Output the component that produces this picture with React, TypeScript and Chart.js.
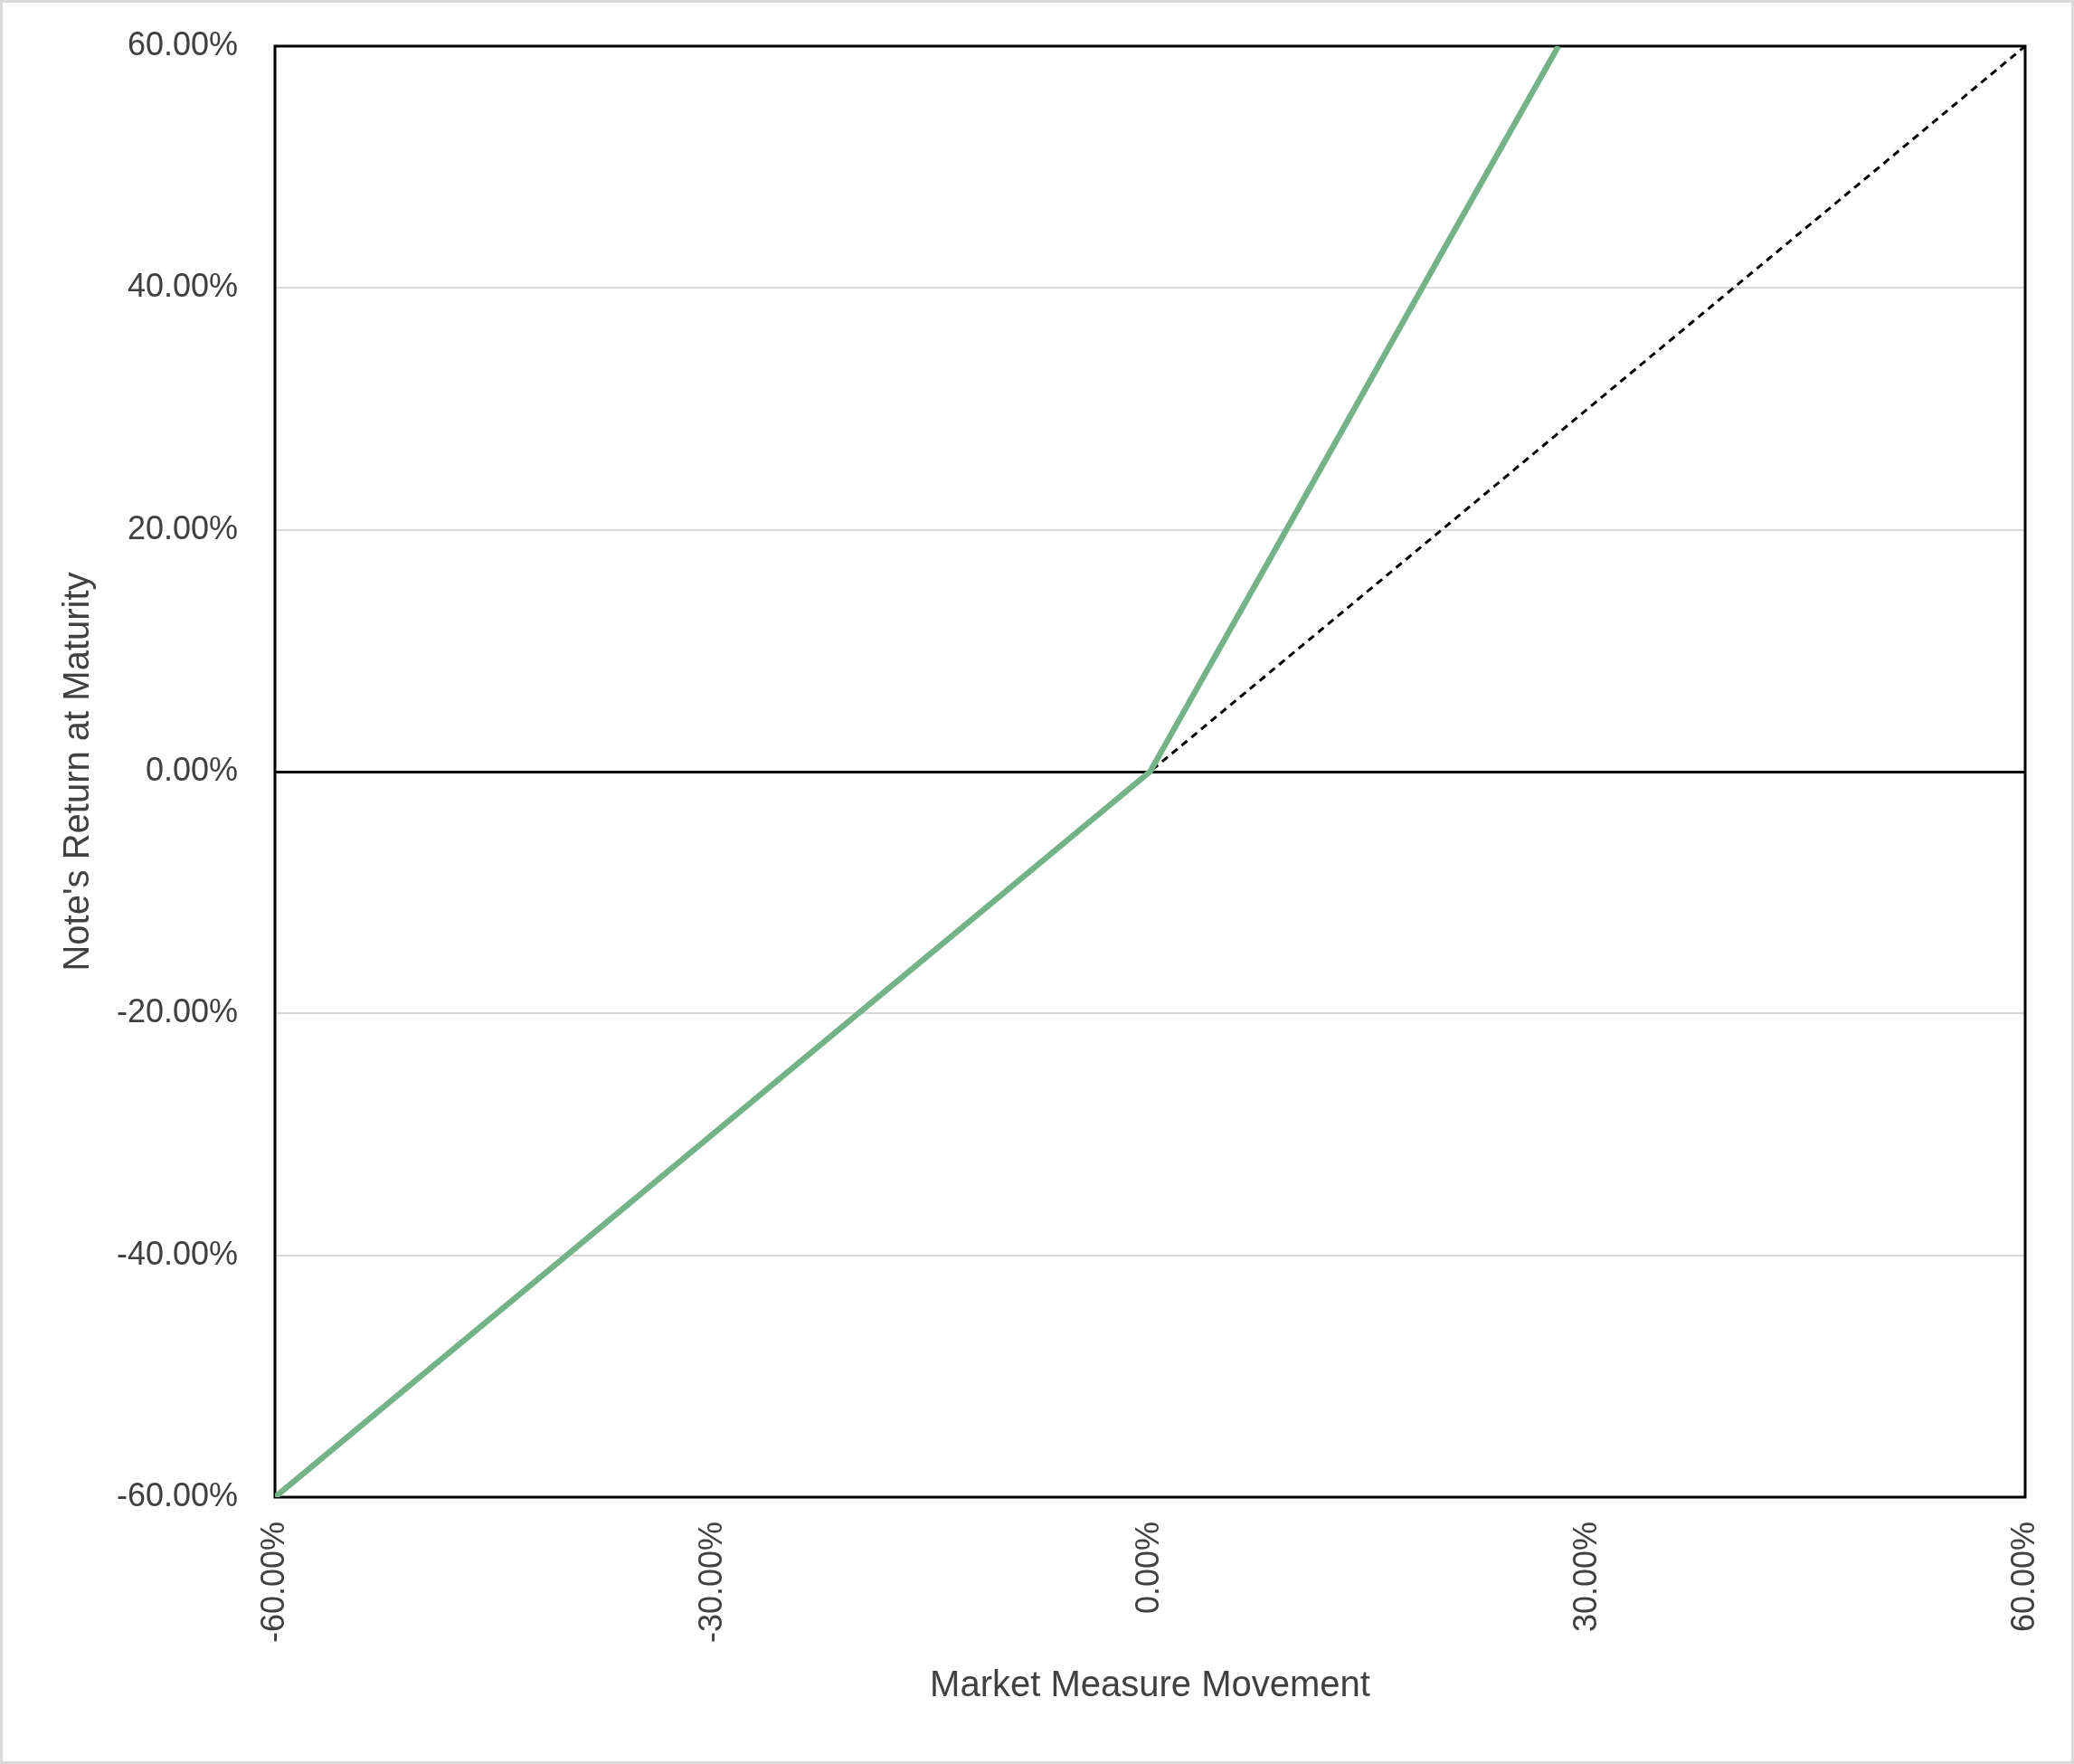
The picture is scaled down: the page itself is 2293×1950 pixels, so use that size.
import React, { useEffect, useRef } from "react";
import { Chart, registerables } from "chart.js";

Chart.register(...registerables);

const W = 2293;
const H = 1950;

// Market measure movement (%) and note return (%)
const noteX = [-60, -50, -40, -30, -20, -10, 0, 10, 20, 28];
const noteY = [-60, -50, -40, -30, -20, -10, 0, 21.4, 42.9, 60];

const refX = [-60, 0, 60];
const refY = [-60, 0, 60];

const yTicks = [-60, -40, -20, 0, 20, 40, 60];
const xTicks = [-60, -30, 0, 30, 60];

const fmt = (v: number) => v.toFixed(2) + "%";

const framePlugin = {
  id: "frame",
  beforeDraw(chart: any) {
    const ctx = chart.ctx;
    ctx.save();
    ctx.fillStyle = "#ffffff";
    ctx.fillRect(0, 0, chart.width, chart.height);
    ctx.strokeStyle = "#d9d9d9";
    ctx.lineWidth = 3;
    ctx.strokeRect(1.5, 1.5, chart.width - 3, chart.height - 3);
    ctx.restore();
  },
  beforeDatasetsDraw(chart: any) {
    const { ctx, chartArea } = chart;
    ctx.save();
    ctx.strokeStyle = "#000000";
    ctx.lineWidth = 3;
    ctx.strokeRect(
      chartArea.left,
      chartArea.top,
      chartArea.right - chartArea.left,
      chartArea.bottom - chartArea.top
    );
    ctx.restore();
  },
};

const zeroPad = (s: any) => {
  s.paddingTop = 0;
  s.paddingBottom = 0;
  s.paddingLeft = 0;
  s.paddingRight = 0;
};

export default function App() {
  const ref = useRef<HTMLCanvasElement | null>(null);

  useEffect(() => {
    if (!ref.current) return;
    Chart.defaults.font.family = "'Liberation Sans', Arial, sans-serif";
    const chart = new Chart(ref.current, {
      type: "line",
      data: {
        datasets: [
          {
            label: "Reference",
            data: refX.map((x, i) => ({ x, y: refY[i] })),
            borderColor: "#000000",
            borderWidth: 3,
            borderDash: [8, 6],
            pointRadius: 0,
            fill: false,
            tension: 0,
            order: 2,
          },
          {
            label: "Note",
            data: noteX.map((x, i) => ({ x, y: noteY[i] })),
            borderColor: "#74B387",
            borderWidth: 6.5,
            pointRadius: 0,
            fill: false,
            tension: 0,
            order: 1,
          },
        ],
      },
      options: {
        animation: false,
        responsive: false,
        devicePixelRatio: 1,
        layout: { padding: { left: 0, top: 51, right: 54, bottom: 0 } },
        plugins: {
          legend: { display: false },
          tooltip: { enabled: false },
        },
        scales: {
          x: {
            type: "linear",
            min: -60,
            max: 60,
            afterFit: (s: any) => {
              s.height = 295;
              zeroPad(s);
            },
            afterBuildTicks: (s: any) => {
              s.ticks = xTicks.map((v) => ({ value: v }));
            },
            grid: { display: false, drawTicks: false },
            border: { display: false },
            ticks: {
              minRotation: 90,
              maxRotation: 90,
              padding: 27,
              color: "#404040",
              font: { size: 36 },
              callback: (v: any) => fmt(Number(v)),
            },
            title: {
              display: true,
              text: "Market Measure Movement",
              color: "#404040",
              font: { size: 40 },
              padding: { top: 0, bottom: 62 },
            },
          },
          y: {
            type: "linear",
            min: -60,
            max: 60,
            afterFit: (s: any) => {
              s.width = 304;
              zeroPad(s);
            },
            afterBuildTicks: (s: any) => {
              s.ticks = yTicks.map((v) => ({ value: v }));
            },
            grid: {
              drawTicks: false,
              color: (c: any) => (c.tick && c.tick.value === 0 ? "#000000" : "#d9d9d9"),
              lineWidth: (c: any) => (c.tick && c.tick.value === 0 ? 3 : 2),
            },
            border: { display: false },
            ticks: {
              padding: 41,
              color: "#404040",
              font: { size: 36 },
              callback: (v: any) => fmt(Number(v)),
            },
            title: {
              display: true,
              text: "Note's Return at Maturity",
              color: "#404040",
              font: { size: 40 },
              padding: { top: 63, bottom: 0 },
            },
          },
        },
      },
      plugins: [framePlugin],
    });
    return () => chart.destroy();
  }, []);

  return (
    <div style={{ position: "absolute", left: 0, top: 0, width: W, height: H }}>
      <canvas ref={ref} width={W} height={H} style={{ display: "block", width: W, height: H }} />
    </div>
  );
}
